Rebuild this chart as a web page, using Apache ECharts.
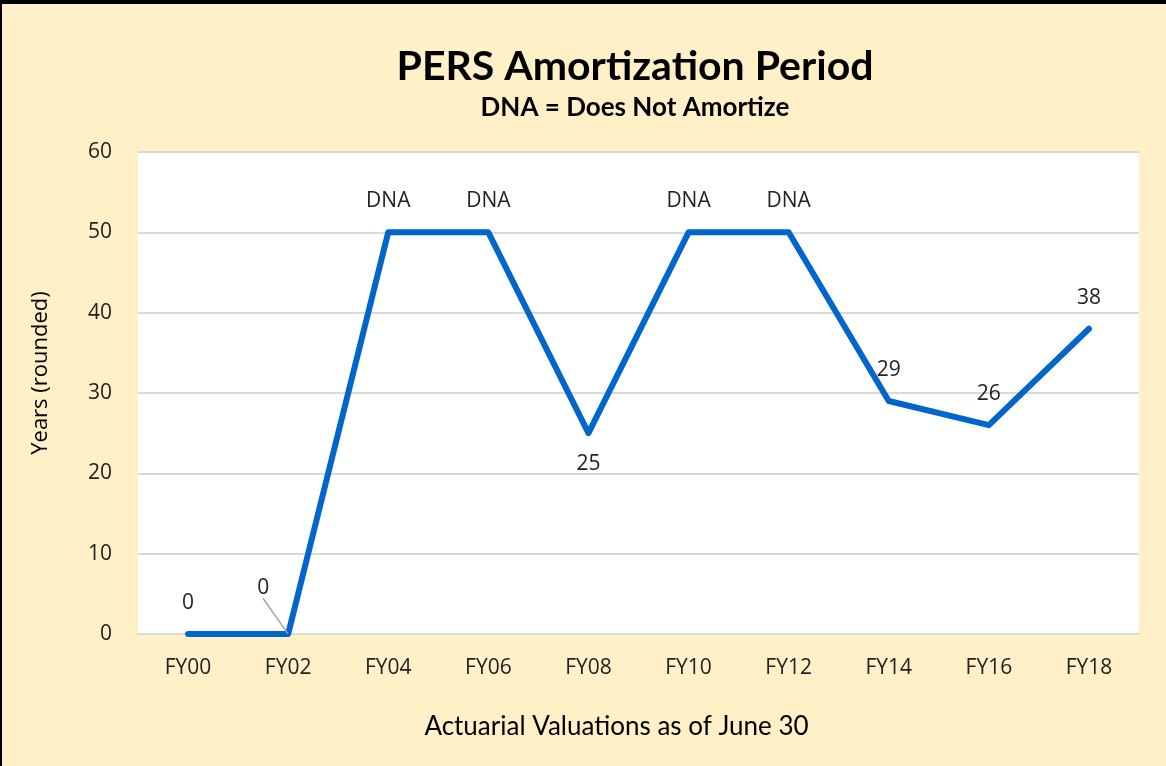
<!DOCTYPE html>
<html>
<head>
<meta charset="utf-8">
<script src="https://cdn.jsdelivr.net/npm/echarts@6/dist/echarts.min.js"></script>
<style>
  html, body { margin: 0; padding: 0; }
  #main {
    width: 1164px;
    height: 762px;
    background: #fff0c8;
    border-top: 4px solid #000;
    border-left: 2px solid #000;
  }
</style>
</head>
<body>
<div id="main"></div>
<script>
// fiscal year valuations
const categories = ["FY00", "FY02", "FY04", "FY06", "FY08", "FY10", "FY12", "FY14", "FY16", "FY18"];
// years (rounded); DNA points drawn at 50
const years = [0, 0, 50, 50, 25, 50, 50, 29, 26, 38];
const pointLabels = ["0", "0", "DNA", "DNA", "25", "DNA", "DNA", "29", "26", "38"];
const yTicks = [0, 10, 20, 30, 40, 50, 60];

const chart = echarts.init(document.getElementById("main"));
const labelFont = "'Open Sans', 'Noto Sans', sans-serif";

const seriesData = years.map((v, i) => {
  const item = { value: v, label: { formatter: pointLabels[i] } };
  if (i === 4) item.label.position = "bottom"; // 25 sits under the dip
  if (i === 1) item.labelLine = { show: true, lineStyle: { color: "#a6a6a6", width: 1.5 } };
  return item;
});

const option = {
  backgroundColor: "transparent",
  title: [
    {
      text: "PERS Amortization Period",
      left: 628,
      textAlign: "center",
      top: 37,
      textStyle: { fontFamily: "Lato, sans-serif", fontWeight: "bold", fontSize: 41, color: "#000" }
    },
    {
      text: "DNA = Does Not Amortize",
      left: 628,
      textAlign: "center",
      top: 86,
      textStyle: { fontFamily: "Lato, sans-serif", fontWeight: "bold", fontSize: 26, color: "#000" }
    }
  ],
  grid: {
    left: 136,
    right: 27,
    top: 148,
    bottom: 132,
    show: true,
    backgroundColor: "#fff",
    borderWidth: 0
  },
  xAxis: {
    type: "category",
    data: categories,
    boundaryGap: true,
    axisTick: { show: false },
    axisLine: { lineStyle: { color: "#d9d9d9", width: 2 } },
    axisLabel: { fontFamily: labelFont, fontSize: 21, color: "#222", margin: 24 },
    name: "Actuarial Valuations as of June 30",
    nameLocation: "middle",
    nameGap: 80,
    nameTextStyle: { fontFamily: "Lato, sans-serif", fontSize: 26, color: "#000", padding: [0, 44, 0, 0] }
  },
  yAxis: {
    type: "value",
    min: yTicks[0],
    max: yTicks[yTicks.length - 1],
    interval: 10,
    axisLine: { show: false },
    axisTick: { show: false },
    splitLine: { lineStyle: { color: "#d9d9d9", width: 2 } },
    axisLabel: { fontFamily: labelFont, fontSize: 21, color: "#222", margin: 26 },
    name: "Years (rounded)",
    nameLocation: "middle",
    nameGap: 86,
    nameTextStyle: { fontFamily: labelFont, fontSize: 22, color: "#000", padding: [0, 0, 0, 40] }
  },
  series: [
    {
      type: "line",
      data: seriesData,
      symbol: "circle",
      symbolSize: 1,
      itemStyle: { color: "#0066cc" },
      lineStyle: { color: "#0066cc", width: 6, cap: "round", join: "round" },
      label: {
        show: true,
        position: "top",
        distance: 20,
        fontFamily: labelFont,
        fontSize: 21,
        color: "#222"
      },
      labelLayout: function (params) {
        // second zero is pushed up-left with a leader line
        if (params.dataIndex === 1) return { dx: -25, dy: -15 };
        return {};
      }
    }
  ]
};

chart.setOption(option);
</script>
</body>
</html>
